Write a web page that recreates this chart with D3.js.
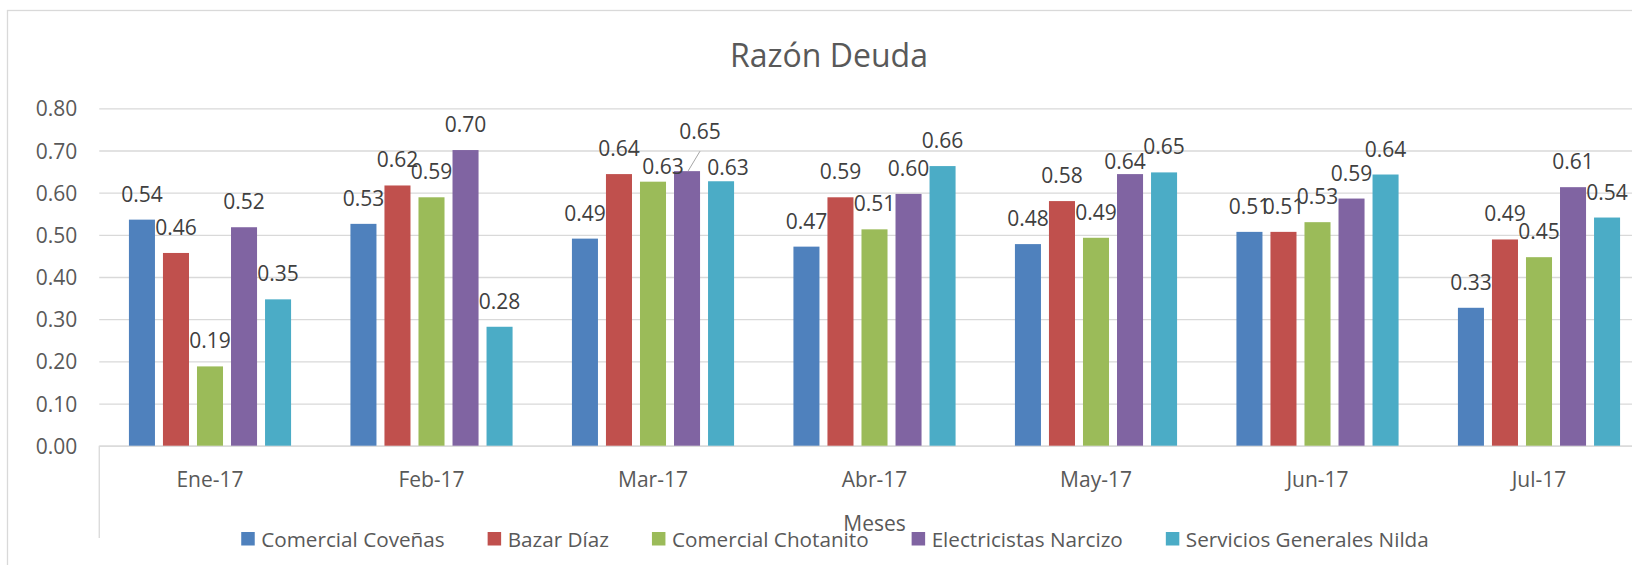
<!DOCTYPE html>
<html>
<head>
<meta charset="utf-8">
<script src="https://cdn.jsdelivr.net/npm/d3@7"></script>
<style>
    body { margin: 0; background: #fff; }
    svg text { font-family: "Open Sans", sans-serif; }
    .grid line { stroke: #d9d9d9; stroke-width: 1.3; }
</style>
</head>
<body>
<div id="RD_graph"></div>
<script>
// datos
var meses = ["Ene-17", "Feb-17", "Mar-17", "Abr-17", "May-17", "Jun-17", "Jul-17"];
var empresas = ["Comercial Coveñas", "Bazar Díaz", "Comercial Chotanito", "Electricistas Narcizo", "Servicios Generales Nilda"];

var comercialCovenas     = [0.536, 0.526, 0.491, 0.472, 0.478, 0.507, 0.327];
var bazarDiaz            = [0.457, 0.617, 0.644, 0.589, 0.580, 0.507, 0.489];
var comercialChotanito   = [0.188, 0.589, 0.626, 0.513, 0.493, 0.530, 0.447];
var electricistasNarcizo = [0.518, 0.701, 0.651, 0.597, 0.644, 0.586, 0.613];
var serviciosNilda       = [0.347, 0.282, 0.627, 0.663, 0.648, 0.643, 0.541];

var yTicks = [0, 0.1, 0.2, 0.3, 0.4, 0.5, 0.6, 0.7, 0.8];
var colores = ["#4F81BD", "#C0504D", "#9BBB59", "#8064A2", "#4BACC6"];

// etiquetas que se movieron a mano en el original
var etiquetasMovidas = [
    {mes: "Mar-17", serie: 2, dx: 10, dy: 10},
    {mes: "Mar-17", serie: 3, dx: 13, dy: -14, guia: true},
    {mes: "Mar-17", serie: 4, dx: 7, dy: 12},
    {mes: "May-17", serie: 3, dx: -5, dy: 13}
];

var series = [comercialCovenas, bazarDiaz, comercialChotanito, electricistasNarcizo, serviciosNilda];

var width = 1632, height = 565;
var plot = {left: 99.25, right: 1649.75, top: 108.3, bottom: 445.7};

var x0 = d3.scaleBand()
    .domain(meses)
    .range([plot.left, plot.right])
    .paddingInner(0.268)
    .paddingOuter(0.134);

var x1 = d3.scaleBand()
    .domain(d3.range(empresas.length))
    .range([0, x0.bandwidth()])
    .paddingInner(0.235);

var y = d3.scaleLinear()
    .domain([0, 0.8])
    .range([plot.bottom, plot.top]);

var fmt = d3.format(".2f");

var svg = d3.select("#RD_graph")
    .append("svg")
    .attr("width", width)
    .attr("height", height);

// borde del area del grafico
svg.append("rect")
    .attr("x", 7.5)
    .attr("y", 10.5)
    .attr("width", 1700)
    .attr("height", 700)
    .style("fill", "none")
    .style("stroke", "#d9d9d9")
    .style("stroke-width", 1.3);

// titulo
svg.append("text")
    .attr("x", 829)
    .attr("y", 67)
    .attr("text-anchor", "middle")
    .style("font-size", "32px")
    .style("fill", "#595959")
    .text("Razón Deuda");

// Add the Y Axis (lineas de la grilla)
var yAxis = d3.axisLeft(y)
    .tickValues(yTicks)
    .tickFormat(fmt)
    .tickSize(-(plot.right - plot.left))
    .tickPadding(22);

var gy = svg.append("g")
    .attr("class", "grid")
    .attr("transform", "translate(" + plot.left + ",0)")
    .call(yAxis);
gy.select(".domain").remove();
gy.selectAll("text")
    .style("font-size", "21px")
    .style("fill", "#595959")
    .attr("dy", "0.36em");

// Add the X Axis
var xAxis = d3.axisBottom(x0).tickSize(0).tickPadding(26);
var gx = svg.append("g")
    .attr("transform", "translate(0," + plot.bottom + ")")
    .call(xAxis);
gx.select(".domain")
    .style("stroke", "#d9d9d9")
    .style("stroke-width", 1.3);
gx.selectAll("text")
    .style("font-size", "21px")
    .style("fill", "#595959");

// linea vertical del eje de categorias
svg.append("line")
    .attr("x1", plot.left)
    .attr("x2", plot.left)
    .attr("y1", plot.bottom)
    .attr("y2", 538)
    .style("stroke", "#d9d9d9")
    .style("stroke-width", 1.3);

// titulo del eje x
svg.append("text")
    .attr("x", (plot.left + plot.right) / 2)
    .attr("y", 531)
    .attr("text-anchor", "middle")
    .style("font-size", "21px")
    .style("fill", "#595959")
    .text("Meses");

// barras
var grupos = svg.selectAll(".mes")
    .data(meses)
    .enter().append("g")
    .attr("class", "mes")
    .attr("transform", function(d) { return "translate(" + x0(d) + ",0)"; });

grupos.selectAll("rect")
    .data(function(d, i) { return series.map(function(s, j) { return {mes: d, serie: j, valor: s[i]}; }); })
    .enter().append("rect")
    .attr("x", function(d) { return x1(d.serie); })
    .attr("width", x1.bandwidth())
    .attr("y", function(d) { return y(d.valor); })
    .attr("height", function(d) { return y(0) - y(d.valor); })
    .style("fill", function(d) { return colores[d.serie]; });

// etiquetas de datos
function movida(d) {
    return etiquetasMovidas.filter(function(m) { return m.mes === d.mes && m.serie === d.serie; })[0];
}

grupos.each(function(mes) {
    var g = d3.select(this);
    g.selectAll("rect").each(function(d) {
        var cx = x1(d.serie) + x1.bandwidth() / 2;
        var top = y(d.valor);
        var m = movida(d) || {dx: 0, dy: 0};
        var lx = cx + m.dx, ly = top - 18 + m.dy;
        if (m.guia) {
            g.append("line")
                .attr("x1", cx + 1)
                .attr("y1", top)
                .attr("x2", lx)
                .attr("y2", ly + 12)
                .style("stroke", "#a6a6a6")
                .style("stroke-width", 1);
        }
        g.append("text")
            .attr("x", lx)
            .attr("y", ly)
            .attr("text-anchor", "middle")
            .style("font-size", "21px")
            .style("fill", "#404040")
            .text(fmt(d.valor));
    });
});

// leyenda
var leyenda = svg.append("g").attr("class", "legend");
var items = leyenda.selectAll("g")
    .data(empresas)
    .enter().append("g");

items.append("rect")
    .attr("y", 532)
    .attr("width", 13.5)
    .attr("height", 13.5)
    .style("fill", function(d, i) { return colores[i]; });

items.append("text")
    .attr("x", 20)
    .attr("y", 546.5)
    .style("font-size", "20.7px")
    .style("fill", "#595959")
    .text(function(d) { return d; });

var pos = 0, posiciones = [];
items.each(function() {
    posiciones.push(pos);
    pos += 20 + d3.select(this).select("text").node().getComputedTextLength() + 43;
});
var total = pos - 43;
var inicio = 835 - total / 2;
items.attr("transform", function(d, i) { return "translate(" + (inicio + posiciones[i]) + ",0)"; });
</script>
</body>
</html>
